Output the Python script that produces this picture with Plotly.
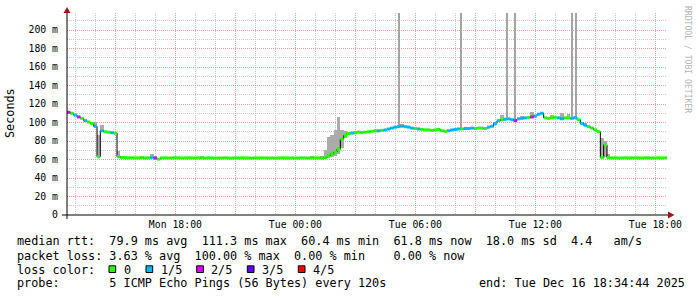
import plotly.graph_objects as go
import pandas as pd

# ---------------- data ----------------
START = "2025-12-15 12:34:44"
END = "2025-12-16 18:34:44"
STEP = "10min"

# median rtt (ms) per 10-minute step
median_ms = [
    111, 110, 108, 106, 104.5, 102, 100.5, 99, 96, 63, 91, 90, 89.5, 89, 88.5, 63, 62.2, 62, 61.8, 61.9,
    61.8, 61.7, 61.9, 61.6, 61.8, 62.0, 61.5, 60.4, 61.7, 61.8, 61.6, 61.7, 61.9, 61.8, 61.6, 61.7, 61.8, 61.7, 61.6, 61.8,
    61.7, 61.6, 61.8, 61.7, 61.5, 61.6, 61.7, 61.8, 61.6, 61.5, 61.7, 61.6, 61.8, 61.7, 61.6, 61.5, 61.7, 61.6, 61.8, 61.7,
    61.6, 61.7, 61.5, 61.6, 61.8, 61.7, 61.6, 61.7, 61.5, 61.6, 61.8, 61.7, 61.6, 61.7, 61.8, 61.6, 61.5, 62, 64, 66,
    68, 71, 82, 86, 88, 88.5, 89, 89.5, 89, 89.5, 90, 90.5, 91, 91, 91.5, 92, 93, 94, 95, 95.5,
    96, 95.5, 95, 94, 93.5, 93, 92.5, 92, 92, 91.5, 92, 92.5, 91, 90.5, 91, 92, 92.5, 93, 93, 93.5,
    93.5, 94, 93.5, 94, 94, 93.5, 95, 96, 99, 102, 103, 103.5, 104, 103, 102, 104, 104.5, 105, 105.5, 106,
    107, 109, 110, 105, 104.5, 105, 105.5, 105, 104, 105, 105, 104.5, 105.5, 103, 99, 97, 95.5, 94, 92, 90,
    62, 76, 62, 61.7, 61.8, 61.6, 61.7, 61.8, 61.6, 61.7, 61.8, 61.7, 61.6, 61.8, 61.7, 61.6, 61.7, 61.8, 61.7, 61.8,
]

# lost pings (out of 5) per step
loss = [
    2, 0, 1, 2, 0, 1, 0, 0, 1, 0, 1, 0, 0, 1, 0, 0, 0, 0, 0, 0,
    0, 0, 0, 0, 0, 1, 2, 0, 0, 0, 0, 0, 0, 0, 0, 0, 0, 0, 0, 0,
    0, 0, 0, 0, 0, 0, 0, 0, 0, 0, 0, 0, 0, 0, 0, 0, 0, 0, 0, 0,
    0, 0, 0, 0, 0, 0, 0, 0, 0, 0, 0, 0, 0, 0, 0, 0, 0, 0, 0, 0,
    0, 0, 0, 0, 0, 1, 0, 0, 0, 0, 0, 0, 0, 1, 0, 1, 1, 1, 1, 1,
    1, 1, 1, 1, 0, 1, 0, 0, 0, 0, 0, 0, 0, 0, 1, 1, 1, 1, 0, 1,
    1, 1, 0, 0, 0, 0, 1, 1, 1, 1, 0, 1, 1, 1, 2, 1, 1, 1, 0, 2,
    1, 1, 1, 0, 0, 0, 0, 1, 1, 0, 0, 1, 1, 0, 1, 1, 0, 0, 0, 0,
    0, 0, 0, 0, 0, 0, 0, 0, 0, 0, 0, 0, 0, 0, 0, 0, 0, 0, 0, 0,
]

# smoke (spread of the 5 pings): (step index, low ms, high ms)
smoke = [
    (8, 94, 101), (9, 63, 86), (10, 90, 97), (15, 63, 69), (16, 61.5, 64), (22, 61.5, 63.5),
    (25, 61.5, 66), (26, 61.5, 64), (35, 61.5, 63), (40, 61.5, 63.5), (55, 61.5, 63), (73, 61.5, 64),
    (76, 61.5, 64), (77, 61.5, 70), (78, 62, 84), (79, 63, 86), (80, 64, 92), (81, 66, 106),
    (82, 72, 92), (83, 83, 91), (84, 87, 90), (100, 95, 98), (111, 92, 94), (130, 102, 108),
    (136, 104, 107), (139, 105, 111), (145, 104, 108), (148, 103, 110), (150, 104, 109),
    (155, 96, 99), (160, 62, 83), (161, 63, 80), (162, 62, 66), (164, 61.5, 63),
]

# single pings far off scale: (time, low ms, high ms)
spikes = [
    ("2025-12-16 05:09:44", 96, 250),
    ("2025-12-16 08:16:44", 93, 250),
    ("2025-12-16 10:33:44", 104, 250),
    ("2025-12-16 10:59:44", 102, 250),
    ("2025-12-16 13:48:44", 105, 250),
    ("2025-12-16 14:00:44", 105, 250),
]

loss_labels = ["0", "1/5", "2/5", "3/5", "4/5"]
loss_colors = ["#26ff00", "#00b8ff", "#dd00ff", "#5e00ff", "#ff0000"]

y_tickvals = [0, 20, 40, 60, 80, 100, 120, 140, 160, 180, 200]
y_ticktext = ["0", "20 m", "40 m", "60 m", "80 m", "100 m", "120 m", "140 m", "160 m", "180 m", "200 m"]

x_tickvals = ["2025-12-15 15:00", "2025-12-15 18:00", "2025-12-15 21:00", "2025-12-16 00:00",
              "2025-12-16 03:00", "2025-12-16 06:00", "2025-12-16 09:00", "2025-12-16 12:00",
              "2025-12-16 15:00", "2025-12-16 18:00"]
x_ticktext = ["", "Mon 18:00", "", "Tue 00:00", "", "Tue 06:00", "", "Tue 12:00", "", "Tue 18:00"]

legend_rows = [
    "median rtt:  79.9 ms avg  111.3 ms max  60.4 ms min  61.8 ms now  18.0 ms sd  4.4   am/s",
    "packet loss: 3.63 % avg  100.00 % max  0.00 % min    0.00 % now",
    "loss color:",
    "probe:       5 ICMP Echo Pings (56 Bytes) every 120s",
]
end_text = "end: Tue Dec 16 18:34:44 2025"

# ---------------- geometry helpers ----------------
W, H = 697, 297
PL, PR, PT, PB = 67, 30, 13, 82
PW, PH = W - PL - PR, H - PT - PB
YMAX = PH / 0.925


def px(x):
    return (x - PL) / PW


def py(y):
    return (PT + PH - y) / PH


FONT = "DejaVu Sans Mono"
nb = lambda s: s.replace(" ", "\u00a0")

times = pd.date_range(START, periods=len(median_ms) + 1, freq=STEP)
step_ms = 10 * 60 * 1000

fig = go.Figure()

# smoke
fig.add_trace(go.Bar(
    x=[times[t] + pd.Timedelta(minutes=5) for t, lo, hi in smoke],
    base=[lo for t, lo, hi in smoke],
    y=[hi - lo for t, lo, hi in smoke],
    width=step_ms, marker=dict(color="#ababab", line=dict(width=0)),
    hoverinfo="skip"))

# spikes
fig.add_trace(go.Bar(
    x=[pd.Timestamp(t) for t, lo, hi in spikes],
    base=[lo for t, lo, hi in spikes],
    y=[hi - lo for t, lo, hi in spikes],
    width=[190000, 330000, 230000, 230000, 230000, 230000],
    marker=dict(color="#a4a4a4", line=dict(width=0)),
    hoverinfo="skip"))

# median (black stepped)
fig.add_trace(go.Scatter(
    x=list(times), y=median_ms + [median_ms[-1]], mode="lines",
    line=dict(color="#000000", width=1, shape="hv"), hoverinfo="skip"))

# loss colored median segments
for lvl, col in enumerate(loss_colors):
    xs, ys = [], []
    for i, (v, l) in enumerate(zip(median_ms, loss)):
        if l == lvl:
            xs += [times[i], times[i + 1], None]
            ys += [v, v, None]
    if xs:
        fig.add_trace(go.Scatter(x=xs, y=ys, mode="lines",
                                 line=dict(color=col, width=3), hoverinfo="skip"))

shapes = []
# axes lines
shapes.append(dict(type="line", xref="paper", yref="paper", x0=px(62), x1=px(670), y0=0, y1=0,
                   line=dict(color="#000000", width=1), layer="above"))
shapes.append(dict(type="line", xref="paper", yref="paper", x0=0, x1=0, y0=py(219), y1=py(11),
                   line=dict(color="#000000", width=1), layer="above"))
# arrows
shapes.append(dict(type="path", xref="paper", yref="paper",
                   path=f"M {px(668)} {py(211.5)} L {px(674.5)} {py(215)} L {px(668)} {py(218.5)} Z",
                   fillcolor="#a01818", line=dict(width=0), layer="above"))
shapes.append(dict(type="path", xref="paper", yref="paper",
                   path=f"M {px(63.5)} {py(13)} L {px(67)} {py(7)} L {px(70.5)} {py(13)} Z",
                   fillcolor="#a01818", line=dict(width=0), layer="above"))

annotations = []
row_y = [241.5, 255.5, 269.5, 283]
for txt, yy in zip(legend_rows, row_y):
    annotations.append(dict(text=nb(txt), x=px(16), y=py(yy), xref="paper", yref="paper",
                            xanchor="left", yanchor="middle", showarrow=False, borderpad=0,
                            font=dict(family=FONT, size=11.8, color="#000000")))
annotations.append(dict(text=nb(end_text), x=px(477.5), y=py(283), xref="paper", yref="paper",
                        xanchor="left", yanchor="middle", showarrow=False, borderpad=0,
                        font=dict(family=FONT, size=11.8, color="#000000")))

box_x = [109, 146, 196.7, 247.3, 298.3]
lab_x = [123, 160, 210.7, 261.7, 312.7]
for bx, lx, lab, col in zip(box_x, lab_x, loss_labels, loss_colors):
    shapes.append(dict(type="rect", xref="paper", yref="paper",
                       x0=px(bx), x1=px(bx + 6.7), y0=py(272.5), y1=py(265.8),
                       fillcolor=col, line=dict(color="#000000", width=1)))
    annotations.append(dict(text=nb(lab), x=px(lx - 0.5), y=py(269.5), xref="paper", yref="paper",
                            xanchor="left", yanchor="middle", showarrow=False, borderpad=0,
                            font=dict(family=FONT, size=11.8, color="#000000")))

# y axis title
annotations.append(dict(text="Seconds", x=px(10), y=py(113), xref="paper", yref="paper",
                        xanchor="center", yanchor="middle", textangle=-90, showarrow=False,
                        font=dict(family=FONT, size=11.8, color="#000000")))
# watermark
annotations.append(dict(text=nb("RRDTOOL / TOBI OETIKER"), x=px(688), y=py(59), xref="paper", yref="paper",
                        xanchor="center", yanchor="middle", textangle=90, showarrow=False,
                        font=dict(family=FONT, size=8.1, color="#b4b4b4")))

GRID_MAJOR = "#e8a0a0"
GRID_MINOR = "#c8c8c8"

fig.update_layout(
    width=W, height=H,
    margin=dict(l=PL, r=PR, t=PT, b=PB, pad=0),
    paper_bgcolor="#ffffff", plot_bgcolor="#ffffff",
    showlegend=False, barmode="overlay", bargap=0,
    shapes=shapes, annotations=annotations,
    xaxis=dict(
        type="date", range=[START, END], tickmode="array",
        tickvals=x_tickvals, ticktext=x_ticktext,
        showgrid=True, gridcolor=GRID_MAJOR, griddash="1px,1px", gridwidth=1,
        minor=dict(tickmode="linear", tick0="2025-12-15 00:00", dtick=3600000, showgrid=True,
                   gridcolor=GRID_MINOR, griddash="1px,1px", gridwidth=1, ticks=""),
        showline=False, zeroline=False, ticks="", fixedrange=True,
        tickfont=dict(family=FONT, size=9.8, color="#000000"),
        ticklabelstandoff=2,
    ),
    yaxis=dict(
        range=[0, YMAX], tickmode="array", tickvals=y_tickvals, ticktext=y_ticktext,
        showgrid=True, gridcolor=GRID_MAJOR, griddash="1px,1px", gridwidth=1,
        minor=dict(tickmode="linear", tick0=0, dtick=10, showgrid=True,
                   gridcolor=GRID_MINOR, griddash="1px,1px", gridwidth=1, ticks=""),
        showline=False, zeroline=False, ticks="", fixedrange=True,
        tickfont=dict(family=FONT, size=9.8, color="#000000"),
        ticklabelstandoff=8,
    ),
)

fig.write_html("out.html")
